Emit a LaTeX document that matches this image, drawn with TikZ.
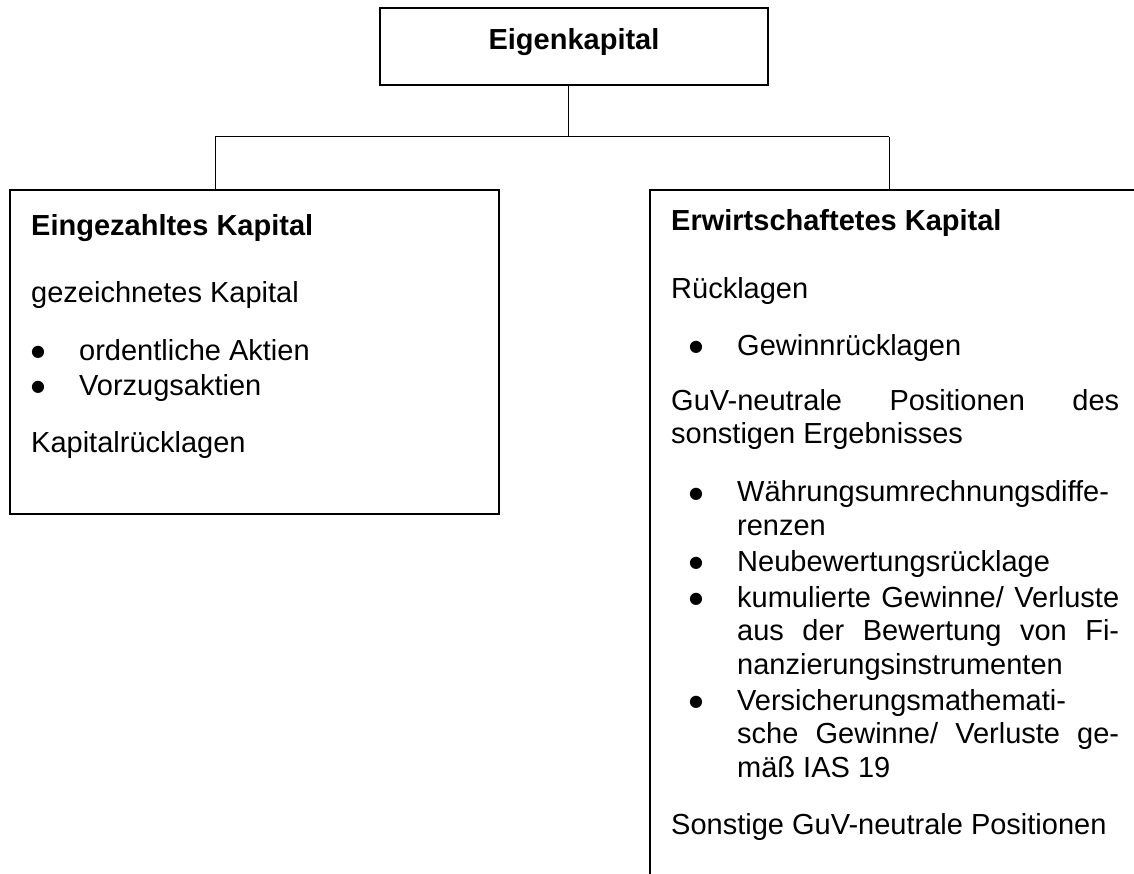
\documentclass[tikz,border=0pt]{standalone}
\usepackage{fontspec}
\setmainfont{Liberation Sans}
\newfontfamily\bulfont{DejaVu Sans}
\usetikzlibrary{positioning}
\setlength{\parindent}{0pt}
\providecommand{\bul}[2]{\par\hangindent=#1\hangafter=0\noindent\llap{\raisebox{3.5pt}{\makebox[0pt][c]{\bulfont\fontsize{16pt}{16pt}\selectfont ●}}\hspace{41pt}}#2\par}
\providecommand{\gap}[1]{\par\vspace{#1}}
\tikzstyle{block} = [draw, line width=2pt, rectangle, inner sep=0pt]
\tikzstyle{txt} = [inner sep=0pt, align=justify]
\tikzstyle{conn} = [line width=1pt]

\begin{document}
\begin{tikzpicture}[x=1pt, y=-1pt]
    \tikzset{font={\fontsize{29pt}{33.5pt}\selectfont\tolerance=10000\hbadness=10000}}
    \useasboundingbox (0,0) rectangle (1134,874);
    \clip (0,0) rectangle (1134,874);
    \node [block, minimum width=388pt, minimum height=77pt, text height=21pt, text depth=15.4pt, font={\fontsize{29pt}{33.5pt}\selectfont\bfseries}] (eigen) at (574,46.5) {Eigenkapital};
    \node [block, minimum width=489pt, minimum height=324pt, anchor=north west] (einge) at (9,189) {};
    \node [block, minimum width=600pt, minimum height=800pt, anchor=north west] (erwirt) at (649,189) {};

    \node [txt, text width=440pt, below right=25pt and 22pt of einge.north west] (eingetxt) {%
        {\bfseries Eingezahltes Kapital}\gap{33.5pt}
        gezeichnetes Kapital\gap{24.5pt}
        \bul{48pt}{ordentliche Aktien}\vspace{1.5pt}
        \bul{48pt}{Vorzugsaktien}\gap{23.5pt}
        Kapitalrücklagen};
    \node [txt, text width=448pt, below right=20pt and 22pt of erwirt.north west] (erwirttxt) {%
        {\bfseries Erwirtschaftetes Kapital}\gap{34.5pt}
        Rücklagen\gap{23.5pt}
        \bul{66pt}{Gewinnrücklagen}\gap{21.5pt}
        GuV-neutrale Positionen des\linebreak sonstigen Ergebnisses\gap{24.5pt}
        \bul{66pt}{Währungsumrechnungsdiffe-\linebreak renzen}\vspace{2.5pt}
        \bul{66pt}{Neubewertungsrücklage}\vspace{2.5pt}
        \bul{66pt}{kumulierte Gewinne/ Verluste\linebreak aus der Bewertung von Fi-\linebreak nanzierungsinstrumenten}\vspace{2.5pt}
        \bul{66pt}{Versicherungsmathemati-\linebreak sche Gewinne/ Verluste ge-\linebreak mäß IAS 19}\gap{23.5pt}
        Sonstige GuV-neutrale Positionen};

    % Verbindungslinien
    \coordinate (fork) at (568,137);
    \coordinate (lend) at (215,137);
    \coordinate (rend) at (889,137);
    \draw [conn] (eigen.south -| fork) -- (fork);
    \draw [conn] (lend) -- (rend);
    \draw [conn] (lend) -- (lend |- einge.north);
    \draw [conn] (rend) -- (rend |- erwirt.north);
\end{tikzpicture}
\end{document}
